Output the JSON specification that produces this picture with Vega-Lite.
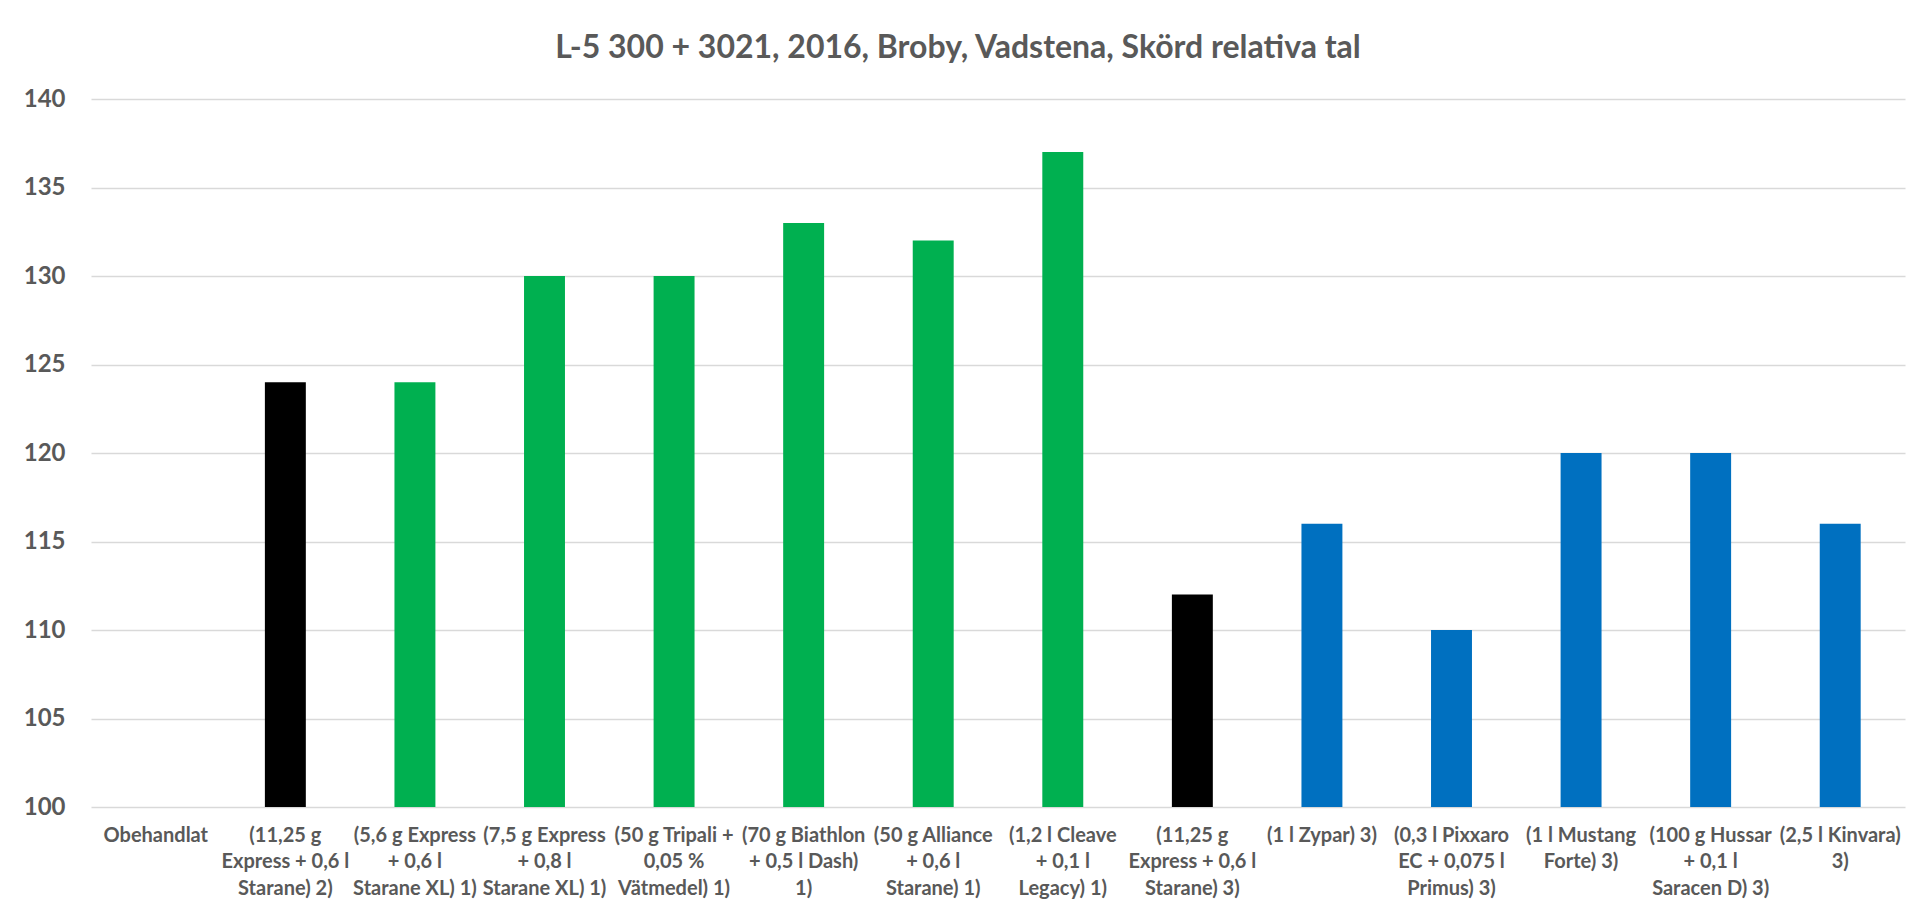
{
  "$schema": "https://vega.github.io/schema/vega-lite/v6.json",
  "width": 1814,
  "height": 708,
  "autosize": {"type": "none"},
  "padding": {"left": 91, "top": 99, "right": 5, "bottom": 102},
  "background": "white",
  "title": {
    "text": "L-5 300 + 3021, 2016, Broby, Vadstena, Skörd relativa tal",
    "font": "Lato",
    "fontSize": 32,
    "fontWeight": "bold",
    "color": "#595959",
    "anchor": "middle",
    "baseline": "alphabetic",
    "offset": -3,
    "dx": -40
  },
  "data": {
    "values": [
      {"Behandling": "Obehandlat", "Skörd": 100, "Grupp": "Obehandlat"},
      {"Behandling": "(11,25 g\nExpress + 0,6 l\nStarane) 2)", "Skörd": 124, "Grupp": "Jämförelse"},
      {"Behandling": "(5,6 g Express\n+ 0,6 l\nStarane XL) 1)", "Skörd": 124, "Grupp": "1)"},
      {"Behandling": "(7,5 g Express\n+ 0,8 l\nStarane XL) 1)", "Skörd": 130, "Grupp": "1)"},
      {"Behandling": "(50 g Tripali +\n0,05 %\nVätmedel) 1)", "Skörd": 130, "Grupp": "1)"},
      {"Behandling": "(70 g Biathlon\n+ 0,5 l Dash)\n1)", "Skörd": 133, "Grupp": "1)"},
      {"Behandling": "(50 g  Alliance\n+ 0,6 l\nStarane) 1)", "Skörd": 132, "Grupp": "1)"},
      {"Behandling": "(1,2 l  Cleave\n+ 0,1 l\nLegacy) 1)", "Skörd": 137, "Grupp": "1)"},
      {"Behandling": "(11,25 g\nExpress + 0,6 l\nStarane) 3)", "Skörd": 112, "Grupp": "Jämförelse"},
      {"Behandling": "(1 l Zypar) 3)", "Skörd": 116, "Grupp": "3)"},
      {"Behandling": "(0,3 l Pixxaro\nEC + 0,075 l\nPrimus) 3)", "Skörd": 110, "Grupp": "3)"},
      {"Behandling": "(1 l Mustang\nForte) 3)", "Skörd": 120, "Grupp": "3)"},
      {"Behandling": "(100 g Hussar\n+ 0,1 l\nSaracen D) 3)", "Skörd": 120, "Grupp": "3)"},
      {"Behandling": "(2,5 l Kinvara)\n3)", "Skörd": 116, "Grupp": "3)"}
    ]
  },
  "mark": {"type": "bar"},
  "encoding": {
    "x": {
      "field": "Behandling",
      "type": "nominal",
      "sort": null,
      "scale": {"paddingInner": 0.684, "paddingOuter": 0.342},
      "axis": {
        "title": null,
        "labelAngle": 0,
        "labelExpr": "split(datum.label, '\\n')",
        "labelFont": "Lato",
        "labelFontSize": 20,
        "labelFontWeight": "bold",
        "labelColor": "#595959",
        "labelLineHeight": 26.7,
        "labelBaseline": "top",
        "labelPadding": 18,
        "labelLimit": 400,
        "labelOverlap": false,
        "ticks": false,
        "domain": false,
        "grid": false
      }
    },
    "y": {
      "field": "Skörd",
      "type": "quantitative",
      "scale": {"domain": [100, 140], "zero": false, "nice": false},
      "axis": {
        "title": null,
        "values": [100, 105, 110, 115, 120, 125, 130, 135, 140],
        "labelFont": "Lato",
        "labelFontSize": 24,
        "labelFontWeight": "bold",
        "labelColor": "#595959",
        "labelPadding": 26,
        "ticks": false,
        "domain": false,
        "grid": true,
        "gridColor": "#D9D9D9",
        "gridWidth": 1.5
      }
    },
    "y2": {"datum": 100},
    "color": {
      "field": "Grupp",
      "type": "nominal",
      "scale": {
        "domain": ["Obehandlat", "Jämförelse", "1)", "3)"],
        "range": ["#000000", "#000000", "#00B050", "#0070C0"]
      },
      "legend": null
    }
  },
  "config": {"view": {"stroke": null}}
}
